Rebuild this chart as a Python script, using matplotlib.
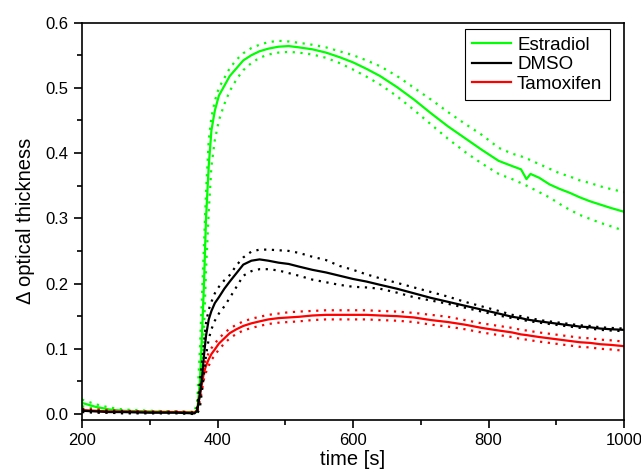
import matplotlib
matplotlib.use('Agg')
import matplotlib.pyplot as plt
from matplotlib.ticker import MultipleLocator

plt.rcParams['font.family'] = ['Liberation Sans', 'DejaVu Sans']

# time grid [s]
t = [200, 220, 240, 260, 300, 340, 366, 370, 374, 377,
     380, 383, 387, 391, 396, 402, 410, 418, 428, 438,
     450, 462, 475, 490, 505, 520, 540, 560, 580, 600,
     620, 640, 665, 690, 715, 740, 765, 790, 815, 835,
     848, 856, 862, 875, 890, 905, 920, 935, 950, 965,
     980, 1000]

# Estradiol
estr_mean = [0.017, 0.011, 0.007, 0.005, 0.004, 0.003, 0.003, 0.005, 0.050, 0.120,
             0.200, 0.300, 0.380, 0.435, 0.465, 0.488, 0.503, 0.518, 0.530, 0.542,
             0.550, 0.556, 0.560, 0.563, 0.564, 0.562, 0.559, 0.554, 0.547, 0.539,
             0.529, 0.518, 0.501, 0.482, 0.461, 0.441, 0.423, 0.405, 0.388, 0.380,
             0.375, 0.360, 0.368, 0.362, 0.352, 0.345, 0.339, 0.332, 0.326, 0.321,
             0.316, 0.310]
estr_upper = [0.022, 0.015, 0.010, 0.007, 0.005, 0.004, 0.003, 0.020, 0.100, 0.180,
              0.260, 0.340, 0.420, 0.455, 0.480, 0.500, 0.515, 0.530, 0.543, 0.553,
              0.561, 0.566, 0.570, 0.572, 0.571, 0.569, 0.566, 0.562, 0.556, 0.550,
              0.542, 0.533, 0.518, 0.500, 0.482, 0.463, 0.445, 0.428, 0.408, 0.399,
              0.395, 0.392, 0.389, 0.383, 0.376, 0.369, 0.364, 0.358, 0.354, 0.349,
              0.345, 0.340]
estr_lower = [0.012, 0.008, 0.005, 0.004, 0.003, 0.002, 0.000, 0.000, 0.020, 0.070,
              0.130, 0.220, 0.310, 0.380, 0.420, 0.450, 0.475, 0.495, 0.513, 0.527,
              0.538, 0.546, 0.551, 0.554, 0.555, 0.554, 0.551, 0.546, 0.538, 0.528,
              0.517, 0.505, 0.487, 0.466, 0.444, 0.422, 0.402, 0.384, 0.368, 0.360,
              0.354, 0.350, 0.347, 0.340, 0.332, 0.322, 0.313, 0.305, 0.299, 0.293,
              0.288, 0.281]

# DMSO
dmso_mean = [0.005, 0.004, 0.003, 0.003, 0.002, 0.002, 0.001, 0.005, 0.030, 0.055,
             0.090, 0.120, 0.145, 0.158, 0.170, 0.179, 0.192, 0.203, 0.216, 0.229,
             0.235, 0.237, 0.235, 0.232, 0.230, 0.226, 0.221, 0.217, 0.212, 0.207,
             0.203, 0.198, 0.192, 0.185, 0.178, 0.172, 0.166, 0.160, 0.154, 0.149,
             0.147, 0.145, 0.144, 0.142, 0.140, 0.138, 0.136, 0.134, 0.133, 0.131,
             0.130, 0.129]
dmso_upper = [0.007, 0.005, 0.004, 0.004, 0.003, 0.003, 0.002, 0.010, 0.050, 0.080,
              0.110, 0.140, 0.160, 0.172, 0.185, 0.195, 0.205, 0.213, 0.228, 0.240,
              0.249, 0.252, 0.252, 0.251, 0.250, 0.247, 0.241, 0.236, 0.227, 0.221,
              0.214, 0.208, 0.201, 0.194, 0.187, 0.180, 0.172, 0.165, 0.158, 0.152,
              0.150, 0.148, 0.147, 0.144, 0.142, 0.140, 0.138, 0.136, 0.135, 0.133,
              0.132, 0.131]
dmso_lower = [0.003, 0.002, 0.002, 0.001, 0.001, 0.001, 0.000, 0.000, 0.010, 0.035,
              0.060, 0.090, 0.115, 0.130, 0.143, 0.154, 0.165, 0.178, 0.195, 0.212,
              0.219, 0.222, 0.222, 0.220, 0.216, 0.212, 0.206, 0.202, 0.198, 0.195,
              0.194, 0.192, 0.186, 0.179, 0.174, 0.169, 0.163, 0.157, 0.151, 0.147,
              0.145, 0.143, 0.142, 0.140, 0.138, 0.136, 0.134, 0.132, 0.131, 0.129,
              0.128, 0.127]

# Tamoxifen
tam_mean = [0.006, 0.005, 0.004, 0.004, 0.003, 0.003, 0.002, 0.006, 0.030, 0.047,
            0.064, 0.074, 0.084, 0.092, 0.099, 0.108, 0.116, 0.124, 0.130, 0.135,
            0.139, 0.142, 0.145, 0.147, 0.148, 0.149, 0.151, 0.152, 0.152, 0.152,
            0.152, 0.151, 0.150, 0.148, 0.144, 0.141, 0.137, 0.132, 0.128, 0.125,
            0.122, 0.121, 0.120, 0.118, 0.116, 0.114, 0.112, 0.110, 0.109, 0.107,
            0.106, 0.104]
tam_upper = [0.008, 0.007, 0.006, 0.005, 0.004, 0.004, 0.003, 0.010, 0.040, 0.058,
             0.074, 0.084, 0.094, 0.101, 0.108, 0.116, 0.124, 0.131, 0.137, 0.142,
             0.146, 0.149, 0.152, 0.154, 0.156, 0.157, 0.158, 0.159, 0.159, 0.159,
             0.159, 0.158, 0.157, 0.155, 0.152, 0.149, 0.144, 0.139, 0.135, 0.132,
             0.129, 0.128, 0.127, 0.125, 0.123, 0.121, 0.119, 0.117, 0.116, 0.114,
             0.113, 0.111]
tam_lower = [0.004, 0.003, 0.002, 0.002, 0.002, 0.002, 0.001, 0.003, 0.020, 0.037,
             0.054, 0.064, 0.074, 0.083, 0.090, 0.099, 0.108, 0.116, 0.123, 0.128,
             0.132, 0.135, 0.138, 0.140, 0.141, 0.142, 0.144, 0.145, 0.145, 0.145,
             0.145, 0.144, 0.143, 0.141, 0.137, 0.134, 0.130, 0.125, 0.121, 0.118,
             0.115, 0.114, 0.113, 0.111, 0.109, 0.107, 0.105, 0.103, 0.102, 0.100,
             0.099, 0.097]

fig = plt.figure(figsize=(6.41, 4.76), dpi=100)
ax = fig.add_axes([0.128, 0.1176, 0.8455, 0.835])

dots = (0, (1, 2.5))
series = [
    ('Estradiol', '#00ff00', estr_mean, estr_upper, estr_lower),
    ('Tamoxifen', '#ff0000', tam_mean, tam_upper, tam_lower),
    ('DMSO', 'black', dmso_mean, dmso_upper, dmso_lower),
]
handles = {}
for name, col, m, up, lo in series:
    ax.plot(t, up, color=col, lw=1.6, linestyle=dots)
    ax.plot(t, lo, color=col, lw=1.6, linestyle=dots)
    handles[name], = ax.plot(t, m, color=col, lw=1.6, label=name)

ax.set_xlim(200, 1000)
ax.set_ylim(-0.0092, 0.6)
ax.xaxis.set_major_locator(MultipleLocator(200))
ax.xaxis.set_minor_locator(MultipleLocator(100))
ax.yaxis.set_major_locator(MultipleLocator(0.1))
ax.yaxis.set_minor_locator(MultipleLocator(0.05))
ax.yaxis.set_major_formatter(matplotlib.ticker.FormatStrFormatter('%.1f'))
ax.tick_params(which='both', direction='out', top=False, right=False,
               labelsize=12, width=1.2)
ax.tick_params(which='major', length=6)
ax.tick_params(which='minor', length=3.5)
for s in ax.spines.values():
    s.set_linewidth(1.2)

ax.set_xlabel('time [s]', fontsize=14.5, labelpad=1)
ax.set_ylabel('\u0394 optical thickness', fontsize=14.5, labelpad=8)

leg = ax.legend([handles['Estradiol'], handles['DMSO'], handles['Tamoxifen']],
                ['Estradiol', 'DMSO', 'Tamoxifen'],
                loc='upper right', bbox_to_anchor=(0.974, 0.983),
                fontsize=13.5, fancybox=False, framealpha=1,
                edgecolor='black', handlelength=2.1, labelspacing=0.12,
                handletextpad=0.3, borderpad=0.4, borderaxespad=0)
leg.get_frame().set_linewidth(0.8)

fig.savefig('out.png', dpi=100)
